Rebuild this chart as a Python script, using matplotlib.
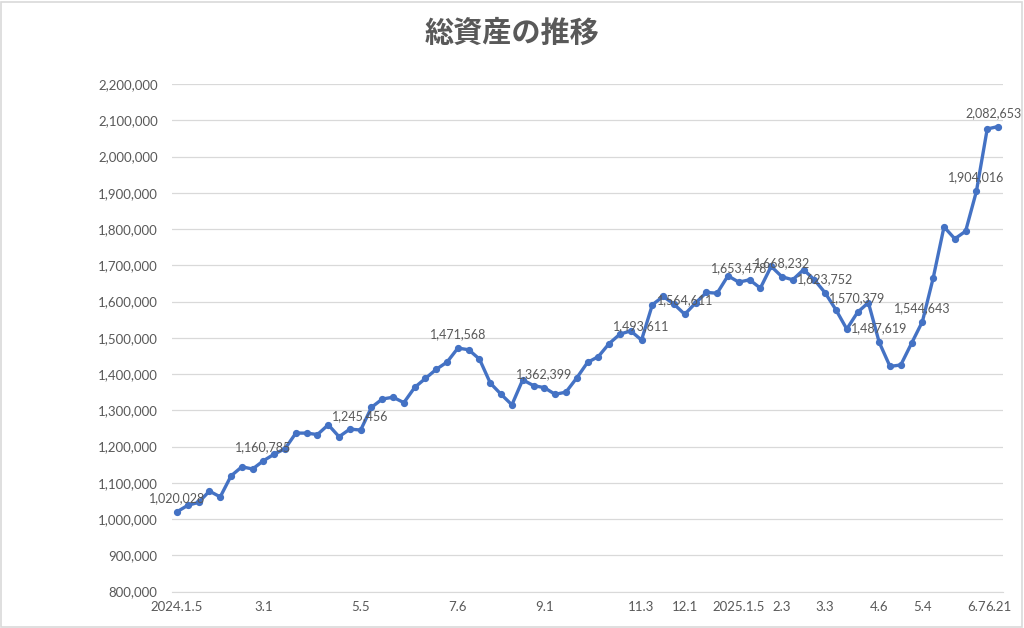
import matplotlib.pyplot as plt
from matplotlib.patches import Rectangle
from matplotlib.ticker import FuncFormatter

plt.rcParams['font.family'] = ['Lato', 'Noto Sans CJK JP', 'DejaVu Sans']

# Weekly total assets (yen)
values = [
    1020028, 1037800, 1046000, 1077000, 1061000, 1119000, 1144000, 1138000,
    1160785, 1179000, 1194000, 1237000, 1237000, 1233000, 1260000, 1227000,
    1248000, 1245456, 1308000, 1331000, 1336000, 1321000, 1363000, 1388000,
    1413000, 1433000, 1471568, 1467000, 1441000, 1375000, 1344000, 1315000,
    1384000, 1368000, 1362399, 1344000, 1350000, 1389000, 1432000, 1448000,
    1484000, 1510000, 1519000, 1493611, 1591000, 1614000, 1593000, 1564611,
    1596000, 1625000, 1623000, 1671000, 1653478, 1660000, 1637000, 1697000,
    1668232, 1660000, 1688000, 1660000, 1623752, 1577000, 1524000, 1570379,
    1597000, 1487619, 1421000, 1425000, 1485000, 1544643, 1665000, 1806000,
    1773000, 1794000, 1904016, 2076000, 2082653,
]

# category labels shown on the x axis (index -> text)
tick_idx = [0, 8, 17, 26, 34, 43, 47, 52, 56, 60, 65, 69, 74, 76]
tick_labels = ["2024.1.5", "3.1", "5.5", "7.6", "9.1", "11.3", "12.1",
               "2025.1.5", "2.3", "3.3", "4.6", "5.4", "6.7", "6.21"]

# points that carry a data label
label_idx = [0, 8, 17, 26, 34, 43, 47, 52, 56, 60, 63, 65, 69, 74, 76]

text_gray = "#595959"
grid_gray = "#d9d9d9"

fig = plt.figure(figsize=(10.24, 6.28), dpi=100)
ax = fig.add_axes([0.1676, 0.0581, 0.8123, 0.8081])

x = list(range(len(values)))
ax.plot(x, values, color="#4472C4", linewidth=2.4, marker="o",
        markersize=4.2, zorder=3)

for i in label_idx:
    # keep the last label inside the chart area, as Excel does
    dx = -3 if i == len(values) - 1 else 0
    ax.annotate(f"{values[i]:,}", (i, values[i]), xytext=(dx, 10),
                textcoords="offset points", ha="center", va="center",
                fontsize=9, color=text_gray, zorder=4)

ax.set_xlim(-0.5, len(values) - 0.5)
ax.set_ylim(800000, 2200000)
ax.set_yticks(range(800000, 2200001, 100000))
ax.yaxis.set_major_formatter(FuncFormatter(lambda v, p: f"{int(v):,}"))
ax.set_xticks(tick_idx)
ax.set_xticklabels(tick_labels)

ax.grid(axis="y", color=grid_gray, linewidth=0.9)
ax.set_axisbelow(True)
for s in ["top", "right", "left"]:
    ax.spines[s].set_visible(False)
ax.spines["bottom"].set_color(grid_gray)
ax.tick_params(axis="both", length=0, colors=text_gray, labelsize=9.5)
ax.tick_params(axis="y", pad=10)
ax.tick_params(axis="x", pad=7)

fig.text(0.5, 0.947, "総資産の推移", ha="center", va="center",
         fontsize=21, fontweight="bold", color=text_gray,
         family=["Noto Sans CJK JP", "DejaVu Sans"])

# light chart-area border
fig.patches.append(Rectangle((0.001, 0.002), 0.997, 0.995,
                             transform=fig.transFigure, fill=False,
                             edgecolor=grid_gray, linewidth=1.2))

fig.savefig("out.png", dpi=100)
plt.close(fig)
